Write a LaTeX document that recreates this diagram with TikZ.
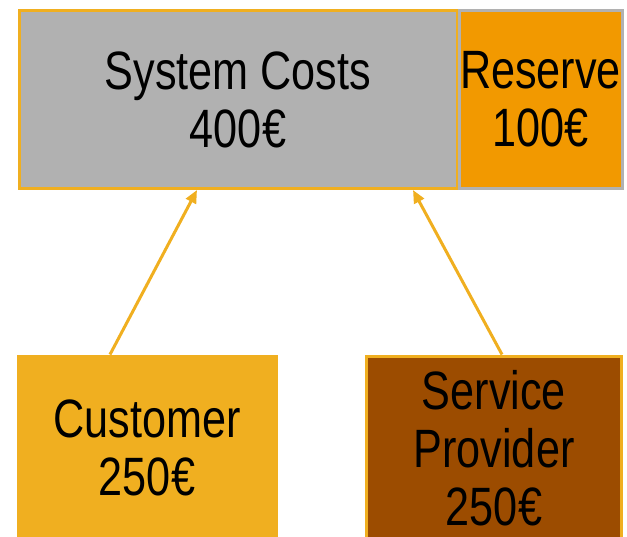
\documentclass[tikz,border=0pt]{standalone}
\usepackage{fontspec}
\setmainfont[FakeStretch=0.80]{Liberation Sans}
\usetikzlibrary{arrows.meta}
\definecolor{cgray}{HTML}{B1B1B1}
\definecolor{cgold}{HTML}{F0AF20}
\definecolor{corange}{HTML}{F29900}
\definecolor{cbrown}{HTML}{9C4C00}
\begin{document}
\begin{tikzpicture}[x=1pt,y=-1pt,
  box/.style={draw, line width=3pt, inner sep=0pt, align=center,
    font=\fontsize{54}{58}\selectfont, text=black},
  conn/.style={draw=cgold, line width=3pt, -{Triangle[length=13pt,width=11pt]}}]
\useasboundingbox (0,0) rectangle (627,536);
\node[box, draw=cgold, fill=cgray, minimum width=438pt, minimum height=178pt] (sys) at (238,99.5) {System Costs\\400€};
\node[box, draw=cgray, fill=corange, minimum width=163pt, minimum height=178pt] (res) at (540.5,99.5) {Reserve\\100€};
\node[box, draw=cgold, fill=cgold, minimum width=258pt, minimum height=184pt] (cust) at (147,448) {Customer\\250€};
\node[box, draw=cgold, fill=cbrown, minimum width=255pt, minimum height=184pt] (sp) at (494,448) {Service\\Provider\\250€};
\path[conn] (cust.north -| 110,0) -- (sys.south -| 197,0);
\path[conn] (sp.north -| 502,0) -- (sys.south -| 413,0);
\end{tikzpicture}
\end{document}
